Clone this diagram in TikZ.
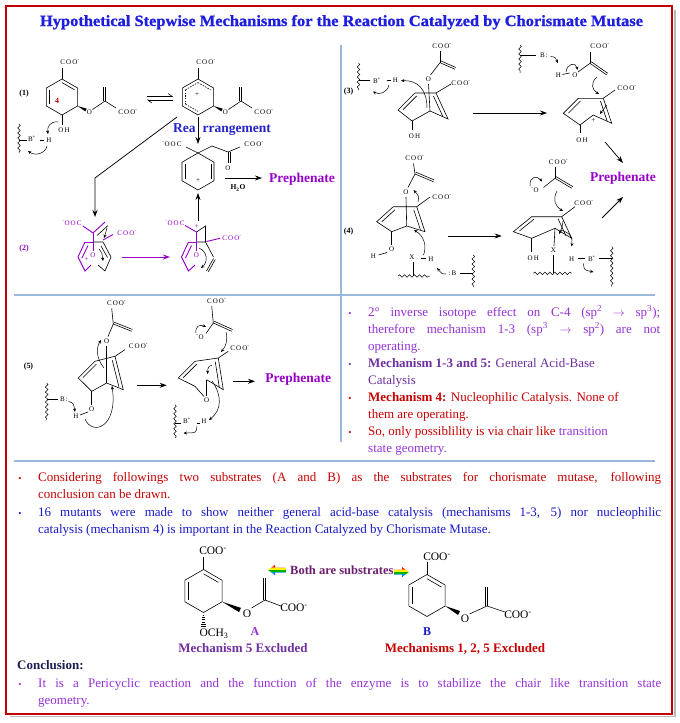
\documentclass[tikz,border=0pt]{standalone}
\usepackage{graphicx}
\usepackage{fontspec}
\setmainfont{Liberation Serif}
\newfontfamily\chemfont[LetterSpace=15]{Liberation Serif}
\newfontfamily\titlefont[FakeBold=1]{Liberation Serif}
\usetikzlibrary{calc,arrows.meta,decorations.pathmorphing}

\definecolor{titleblue}{RGB}{30,30,225}
\definecolor{rearrblue}{RGB}{35,35,200}
\definecolor{framered}{RGB}{192,0,0}
\definecolor{sepblue}{RGB}{155,183,217}
\definecolor{prepurple}{RGB}{150,0,200}
\definecolor{lightviolet}{RGB}{150,50,215}
\definecolor{mechpurple}{RGB}{112,48,160}
\definecolor{textred}{RGB}{200,0,0}
\definecolor{textblue}{RGB}{25,25,200}
\definecolor{navy}{RGB}{30,30,85}
\definecolor{bothpurple}{RGB}{110,30,110}

\begin{document}
\begin{tikzpicture}[x=1pt,y=-1pt,
  bond/.style={line width=0.6pt},
  pbond/.style={line width=0.9pt,prepurple},
  rxn/.style={line width=0.75pt,-{Stealth[length=7pt,width=5pt]}},
  curly/.style={line width=0.5pt,-{Stealth[length=3.5pt,width=3pt]}},
  chem/.style={font=\chemfont\fontsize{7}{8}\selectfont,inner sep=0.3pt},
  chemA/.style={font=\fontsize{11.5}{12}\selectfont,inner sep=0.3pt},
  mlabel/.style={font=\bfseries\fontsize{8}{9}\selectfont,inner sep=0pt},
  prep/.style={font=\bfseries\fontsize{13.5}{14}\selectfont,prepurple,inner sep=0pt},
  wavy/.style={line width=0.5pt,decorate,decoration={snake,amplitude=1.3pt,segment length=5pt}},
  txt/.style={font=\fontsize{13}{15}\selectfont,inner sep=0pt,anchor=base west},
  bul/.style={font=\fontsize{9}{10}\selectfont,inner sep=0pt,anchor=base},
  capt/.style={font=\bfseries\fontsize{13}{14}\selectfont,inner sep=0pt,anchor=base},
  sep/.style={sepblue,line width=1.1pt}]

\def\hexring#1#2#3#4{%
  \coordinate (#1-c) at (#2,#3);
  \coordinate (#1-t) at (#2,{#3-#4});
  \coordinate (#1-ur) at ({#2+0.866*#4},{#3-0.5*#4});
  \coordinate (#1-lr) at ({#2+0.866*#4},{#3+0.5*#4});
  \coordinate (#1-b) at (#2,{#3+#4});
  \coordinate (#1-ll) at ({#2-0.866*#4},{#3+0.5*#4});
  \coordinate (#1-ul) at ({#2-0.866*#4},{#3-0.5*#4});
  \draw[bond] (#1-t) -- (#1-ur) -- (#1-lr) -- (#1-b) -- (#1-ll) -- (#1-ul) -- cycle;}
\def\dblin#1#2#3#4{\draw[bond,#4] ($(#1)!0.8!(#2)$) -- ($(#1)!0.8!(#3)$);}
\def\dbl#1#2{\draw[bond] (#1) -- (#2);
  \draw[bond] ($(#1)!2pt!90:(#2)$) -- ($(#2)!2pt!-90:(#1)$);}

\fill[white] (0,0) rectangle (680,723);
\useasboundingbox (0,0) rectangle (680,723);

% frame and separators
\draw[gray!55,line width=1.5pt] (675,10) -- (675,716.5) -- (10,716.5);
\draw[framered,line width=2.5pt] (6,6) rectangle (672,714);
\draw[sep] (14,295) -- (655,295);
\draw[sep] (14,461) -- (655,461);
\draw[sep] (341,45) -- (341,442);

\node[anchor=base,inner sep=0pt,titleblue] (title) at (341.5,26)
  {\resizebox{603pt}{11pt}{\titlefont\bfseries Hypothetical Stepwise Mechanisms for the Reaction Catalyzed by Chorismate Mutase}};

% (1)
\node[mlabel] (lab1) at (24,94) {(1)};
\hexring{ra}{62}{97}{18}
\dblin{ra-c}{ra-t}{ra-ur}{}
\dblin{ra-c}{ra-ul}{ra-ll}{}
\draw[bond] (ra-t) -- (62,68);
\node[chem] (ra-coo) at (70,62) {COO\textsuperscript{-}};
\node[textred,font=\bfseries\fontsize{8}{8}\selectfont,inner sep=0pt] (ra-four) at (57,101) {4};
\fill (ra-lr) -- (86.7,108.6) -- (85.3,111.4) -- cycle;
\node[chem] (ra-o) at (89.5,112) {O};
\draw[bond] (92.5,109.5) -- (105,101);
\dbl{105,101}{105,87}
\draw[bond] (105,101) -- (116,108);
\node[chem] (ra-coo2) at (128,112) {COO\textsuperscript{-}};
\draw[bond] (ra-b) -- (62,125);
\node[chem] (ra-oh) at (64,130) {OH};
\draw[wavy] (19,124) -- (19,153);
\draw[bond] (19,140) -- (27,140);
\node[chem] (ra-bp) at (32,139) {B\textsuperscript{+}};
\draw[bond] (40,140) -- (44,140);
\node[chem] (ra-h) at (49,140) {H};
\draw[curly] (58,122) .. controls (50,121) and (47,127) .. (48,134);
\draw[curly] (47,146) .. controls (45,154) and (35,156) .. (28,151);

\draw[line width=0.6pt,-{Straight Barb[left,length=4pt,width=6pt]}] (147,96.5) -- (173,96.5);
\draw[line width=0.6pt,-{Straight Barb[left,length=4pt,width=6pt]}] (173,100) -- (147,100);

\hexring{rb}{198}{97}{18}
\dblin{rb-c}{rb-t}{rb-ur}{dashed,dash pattern=on 1.5pt off 1.2pt}
\dblin{rb-c}{rb-ul}{rb-t}{dashed,dash pattern=on 1.5pt off 1.2pt}
\dblin{rb-c}{rb-ul}{rb-ll}{dashed,dash pattern=on 1.5pt off 1.2pt}
\dblin{rb-c}{rb-ll}{rb-b}{dashed,dash pattern=on 1.5pt off 1.2pt}
\node[chem] (rb-plus) at (197,95) {+};
\draw[bond] (rb-t) -- (198,68);
\node[chem] (rb-coo) at (206,62) {COO\textsuperscript{-}};
\fill (rb-lr) -- (222.7,108.6) -- (221.3,111.4) -- cycle;
\node[chem] (rb-o) at (225.5,112) {O};
\draw[bond] (228.5,109.5) -- (241,101);
\dbl{241,101}{241,87}
\draw[bond] (241,101) -- (252,108);
\node[chem] (rb-coo2) at (264,112) {COO\textsuperscript{-}};

\draw[rxn] (177,117) -- (95,178) -- (95,217);
\draw[rxn] (198,117) -- (198,144);
\node[anchor=west,inner sep=0pt,font=\bfseries\fontsize{13.5}{14}\selectfont,rearrblue] (rearr) at (173,130) {Rea\hspace{7pt}rrangement};

\hexring{rc}{198}{171.5}{18.5}
\dblin{rc-c}{rc-ul}{rc-ll}{}
\dblin{rc-c}{rc-ur}{rc-lr}{}
\node[chem] (rc-plus) at (198,181) {+};
\draw[bond] (rc-t) -- (186,147);
\node[chem] (rc-ooc) at (172,144) {\textsuperscript{-}OOC};
\draw[bond] (rc-t) -- (212,146) -- (228,152) -- (240,147);
\dbl{228,152}{228,163}
\node[chem] (rc-o) at (228,168) {O};
\node[chem] (rc-coo) at (254,144) {COO\textsuperscript{-}};
\draw[rxn] (225,178) -- (262,178);
\node[chem,font=\bfseries\fontsize{7.5}{8}\selectfont] (water) at (238,188) {H\textsubscript{2}O};
\node[prep] (prep1) at (302,179) {Prephenate};
\draw[rxn] (198,221) -- (198,193);

% (2)
\node[mlabel,prepurple] (lab2) at (24,249) {(2)};
\node[chem,prepurple] (pa-ooc) at (72,223) {\textsuperscript{-}OOC};
\draw[pbond] (83,226) -- (93,233);
\draw[pbond] (93,233) -- (105,222);
\draw[bond] (97,235.5) -- (108,225.5);
\draw[curly] (107,228) .. controls (106,232) .. (104,238);
\draw[pbond] (93,233) -- (93,251);
\node[chem,prepurple] (pa-o) at (93,255) {O};
\draw[pbond] (103,240) -- (113,234.5);
\node[chem,prepurple] (pa-coo) at (127,233) {COO\textsuperscript{-}};
\draw[pbond] (85,242) -- (78,257) -- (85,271) -- (91,265);
\draw[pbond] (88,245.5) -- (82,258);
\node[chem,prepurple] (pa-plus) at (86.5,259.5) {+};
\draw[pbond] (85,242) -- (93,242);
\draw[bond] (93,242) -- (103,242) -- (111,257) -- (105,271) -- (98,265);
\draw[bond] (101,246) -- (107.5,257.5);
\draw[curly] (99,249) .. controls (102,253) .. (103,261);
\draw[rxn,prepurple,line width=1pt] (122,257) -- (170,257);

\node[chem,prepurple] (pb-ooc) at (175,223) {\textsuperscript{-}OOC};
\draw[pbond] (185,225.5) -- (196.5,232);
\node[chem,prepurple] (pb-plus) at (196.5,226.5) {+};
\draw[bond] (196.5,232) -- (205.5,226) -- (205.5,242);
\draw[pbond] (206.5,241.5) -- (220,238.3);
\node[chem,prepurple] (pb-coo) at (232,238) {COO\textsuperscript{-}};
\draw[pbond] (196.5,232) -- (196.5,251);
\node[chem,prepurple] (pb-o) at (196.5,255) {O};
\draw[pbond] (188.5,242) -- (181.5,257) -- (188.5,271) -- (195,265);
\draw[pbond] (191.5,245.5) -- (185.5,258);
\draw[pbond] (188.5,242) -- (196.5,242);
\draw[bond] (196.5,242) -- (205.5,242) -- (213.5,257);
\dbl{213.5,258.5}{206.5,271}
\draw[curly] (199,248) .. controls (208,252) and (208,262) .. (201,268);

% (3)
\node[mlabel] (lab3) at (348.5,92) {(3)};
\draw[wavy] (358.5,63) -- (358.5,90);
\draw[bond] (358.5,80.7) -- (370,80.7);
\node[chem] (ta-bp) at (377,80.5) {B\textsuperscript{+}};
\draw[bond] (386.5,80.7) -- (391,80.7);
\node[chem] (ta-h) at (395.5,80.7) {H};
\draw[curly] (427,108) .. controls (427,90) and (418,80) .. (401,80.7);
\draw[curly] (389,85) .. controls (387,93) and (379,95) .. (373,91.5);
\node[chem] (ta-coo) at (442,46) {COO\textsuperscript{-}};
\draw[bond] (440,51) -- (440,62.7);
\dbl{440,62.7}{455,69.3}
\draw[bond] (440,62.7) -- (430.5,75);
\node[chem] (ta-o) at (428.5,79.5) {O};
\coordinate (ta5) at (398,110); \coordinate (ta6) at (415,93);
\coordinate (ta1) at (436,93); \coordinate (ta2) at (448,119);
\coordinate (ta3) at (430,111); \coordinate (ta4) at (412,121);
\coordinate (ta-c) at (423,108);
\draw[bond] (ta5) -- (ta6) -- (ta1) -- (ta2) -- (ta3) -- (ta4) -- cycle;
\draw[bond] (428.5,84) -- (ta3);
\dblin{ta-c}{ta5}{ta6}{}
\dblin{ta-c}{ta1}{ta2}{}
\draw[bond] (ta1) -- (451,84);
\node[chem] (ta-coo2) at (461,83) {COO\textsuperscript{-}};
\draw[bond] (ta4) -- (412,129.5);
\node[chem] (ta-oh) at (414.5,136) {OH};
\draw[rxn] (473,113) -- (547,113);

\draw[wavy] (520,45) -- (520,73);
\draw[bond] (520,55) -- (536,55);
\node[chem] (tb-b) at (544,55) {B\,:};
\draw[curly] (550.5,56.5) .. controls (555,57) .. (558,63);
\node[chem] (tb-h) at (558.5,75) {H};
\draw[bond] (562.5,74.5) -- (569.5,73);
\node[chem] (tb-o) at (575,75) {O};
\draw[curly] (566,72) .. controls (567,63) and (576,62) .. (577.5,70);
\draw[bond] (578,72) -- (590,63.3);
\draw[bond] (590,63.3) -- (590,52);
\node[chem] (tb-coo) at (600,46) {COO\textsuperscript{-}};
\dbl{590,63.3}{606.7,75}
\draw[curly] (597,77) .. controls (590,83) and (592,90) .. (599,94);
\coordinate (tb5) at (563.3,113.3); \coordinate (tb6) at (578.3,98.3);
\coordinate (tb1) at (603.3,98.3); \coordinate (tb2) at (611.7,123.3);
\coordinate (tb3) at (593.3,115); \coordinate (tb4) at (580,125);
\coordinate (tb-c) at (589,112);
\draw[bond] (tb5) -- (tb6) -- (tb1) -- (tb2) -- (tb3) -- (tb4) -- cycle;
\dblin{tb-c}{tb5}{tb6}{}
\dblin{tb-c}{tb1}{tb2}{}
\node[chem] (tb-plus) at (593.3,120.7) {+};
\draw[bond] (tb1) -- (615,90);
\node[chem] (tb-coo2) at (627,88.5) {COO\textsuperscript{-}};
\draw[curly] (607,105) .. controls (604,108) .. (600,114);
\draw[bond] (tb4) -- (580,133);
\node[chem] (tb-oh) at (582,140) {OH};
\draw[rxn] (605,142) -- (623,163);
\node[prep] (prep2) at (623,178) {Prephenate};

% (4)
\node[mlabel] (lab4) at (348.5,232) {(4)};
\node[chem] (fa-coo) at (415,158.5) {COO\textsuperscript{-}};
\draw[bond] (413.5,163.5) -- (415,174);
\dbl{415,174}{433.3,181.7}
\draw[bond] (415,174) -- (408,187.5);
\node[chem] (fa-o) at (406,192.3) {O};
\coordinate (fa5) at (376.7,221.7); \coordinate (fa6) at (393.3,206.7);
\coordinate (fa1) at (416.7,206.7); \coordinate (fa2) at (425,231.7);
\coordinate (fa3) at (406.7,226); \coordinate (fa4) at (391.7,231.7);
\coordinate (fa-c) at (402,222);
\draw[bond] (fa5) -- (fa6) -- (fa1) -- (fa2) -- (fa3) -- (fa4) -- cycle;
\draw[bond] (406,197) -- (fa3);
\dblin{fa-c}{fa5}{fa6}{}
\dblin{fa-c}{fa1}{fa2}{}
\draw[bond] (fa1) -- (430,197);
\node[chem] (fa-coo2) at (442,197) {COO\textsuperscript{-}};
\draw[curly] (418,202) .. controls (419,196) .. (413.5,190);
\draw[bond] (fa4) -- (391.7,245);
\node[chem] (fa-oh) at (391.7,249.5) {O};
\draw[bond] (387,252.5) -- (378.5,255);
\node[chem] (fa-h) at (373.3,256) {H};
\node[chem] (fa-x) at (412,257.5) {X};
\draw[bond] (421,258.5) -- (425.5,258.5);
\node[chem] (fa-xh) at (431,259) {H};
\draw[curly] (423.5,255) .. controls (427,246) and (424,236) .. (414,230);
\draw[bond] (413.3,262) -- (413.3,276);
\draw[wavy] (398,276) -- (430,276);
\node[chem] (fa-b) at (452.5,273.5) {:B};
\draw[bond] (460,273.5) -- (473.3,273.5);
\draw[wavy] (473.3,255) -- (473.3,287);
\draw[curly] (446,274) .. controls (442,274) .. (437,268);
\draw[rxn] (448.3,236) -- (501.7,236);

\node[chem] (fb-coo) at (558.5,162.7) {COO\textsuperscript{-}};
\draw[bond] (555,167) -- (555,178.3);
\dbl{555,178.3}{571.7,188.3}
\draw[bond] (555,178.3) -- (543.5,187.5);
\node[chem] (fb-o) at (535,190) {\textsuperscript{-}O};
\draw[curly] (530,186) .. controls (529,177) and (537,175) .. (542,181.5);
\draw[curly] (557,191) .. controls (552,200) and (556,207) .. (563,211);
\coordinate (fb5) at (513.3,231.7); \coordinate (fb6) at (531.7,216.7);
\coordinate (fb1) at (561.7,216.7); \coordinate (fb2) at (571.7,238.3);
\coordinate (fb3) at (555,228.3); \coordinate (fb4) at (531.7,238.3);
\coordinate (fb-c) at (544,228);
\draw[bond] (fb5) -- (fb6) -- (fb1) -- (fb2) -- (fb3) -- (fb4) -- cycle;
\dblin{fb-c}{fb5}{fb6}{}
\dblin{fb-c}{fb1}{fb2}{}
\draw[bond] (fb1) -- (575,206.7);
\node[chem] (fb-coo2) at (584,203.5) {COO\textsuperscript{-}};
\draw[curly] (563,221) .. controls (562,228) .. (559,234);
\draw[bond] (fb4) -- (531.7,251.5);
\node[chem] (fb-oh) at (533.3,258.3) {OH};
\draw[bond] (fb3) -- (554,246);
\node[chem] (fb-x) at (553.3,250) {X};
\draw[curly] (560,230) .. controls (570,232) and (573,238) .. (571.5,246.5);
\draw[bond] (553.3,255) -- (553.3,273.3);
\draw[wavy] (533.3,273.3) -- (571.7,273.3);
\node[chem] (fb-h) at (571.7,259.3) {H};
\draw[bond] (578.3,258.5) -- (585,258.5);
\node[chem] (fb-bp) at (592,258.3) {B\textsuperscript{+}};
\draw[bond] (598.5,258.5) -- (611.7,258.5);
\draw[wavy] (611.7,246.7) -- (611.7,286.7);
\draw[curly] (583.5,263.5) .. controls (584,270) .. (593.5,272);
\draw[rxn] (602,218) -- (623,197);

% (5)
\node[mlabel] (lab5) at (28.5,366.5) {(5)};
\node[chem] (va-coo) at (116.7,303) {COO\textsuperscript{-}};
\draw[bond] (111.7,308.5) -- (113.3,324);
\dbl{113.3,324}{131.7,331.3}
\draw[bond] (113.3,324) -- (108,336.5);
\node[chem] (va-o) at (106.7,341.3) {O};
\coordinate (va5) at (78.3,378); \coordinate (va6) at (95,361.3);
\coordinate (va1) at (115,356.3); \coordinate (va2) at (123.3,389.7);
\coordinate (va3) at (106.7,383); \coordinate (va4) at (91.7,391.3);
\coordinate (va-c) at (101.5,376);
\draw[bond] (va5) -- (va6) -- (va1) -- (va2) -- (va3) -- (va4) -- cycle;
\dblin{va-c}{va5}{va6}{}
\dblin{va-c}{va1}{va2}{}
\draw[bond] (106.7,346) -- (va3);
\draw[bond] (va1) -- (125,349.7);
\node[chem] (va-coo2) at (138.5,346.3) {COO\textsuperscript{-}};
\draw[curly] (104,368) .. controls (96,358) and (96,348) .. (101,340);
\draw[bond] (va4) -- (91.7,405);
\node[chem] (va-oh) at (91.7,409.7) {O};
\draw[bond] (88,412) -- (80,415);
\node[chem] (va-h) at (76,416.3) {H};
\draw[wavy] (46.7,383) -- (46.7,420);
\draw[bond] (46.7,399.7) -- (58.3,399.7);
\node[chem] (va-b) at (64,399.7) {B\,:};
\draw[curly] (68.5,401.5) .. controls (73.5,403) .. (75,412);
\draw[curly] (85,419) .. controls (92,436) and (118,428) .. (112,386);
\draw[rxn] (136.7,385.3) -- (166.7,385.3);

\node[chem] (vb-coo) at (216.7,301.3) {COO\textsuperscript{-}};
\draw[bond] (211.7,306.3) -- (213.3,323);
\dbl{213.3,323}{231.7,331.3}
\draw[bond] (213.3,323) -- (206,333.5);
\node[chem] (vb-o) at (200,337.3) {\textsuperscript{-}O};
\draw[curly] (196,333) .. controls (195,326) and (200,324) .. (206,327);
\draw[curly] (226,332) .. controls (228,340) and (226,346) .. (221,352);
\coordinate (vb5) at (178.3,378); \coordinate (vb6) at (195,361.3);
\coordinate (vb1) at (218.3,358); \coordinate (vb2) at (223.3,389.7);
\coordinate (vb3) at (206.7,379.7); \coordinate (vb4) at (195,386.3);
\coordinate (vb-c) at (203,376);
\draw[bond] (vb4) -- (vb5) -- (vb6) -- (vb1) -- (vb2) -- (vb3);
\dblin{vb-c}{vb5}{vb6}{}
\dblin{vb-c}{vb1}{vb2}{}
\draw[bond] (vb4) -- (204,396.5);
\draw[line width=1.1pt] (vb3) -- (206.7,395.5);
\node[chem] (vb-ox) at (206.7,400) {O};
\draw[curly] (212,365) .. controls (208,367) .. (207.5,374);
\draw[bond] (vb1) -- (228.3,351.3);
\node[chem] (vb-coo2) at (240,348) {COO\textsuperscript{-}};
\draw[curly] (212,381) .. controls (222,395) and (222,410) .. (209,420);
\draw[wavy] (175,404.7) -- (175,438);
\draw[bond] (175,423) -- (181,423);
\node[chem] (vb-bp) at (187,421) {B\textsuperscript{+}};
\draw[bond] (196.7,423) -- (200,423);
\node[chem] (vb-h) at (204,421.3) {H};
\draw[curly] (197,426.5) .. controls (196,433) .. (183.5,433);
\draw[rxn] (233.3,381.3) -- (255,381.3);
\node[prep] (prep3) at (298.3,379.7) {Prephenate};

% right panel text
\node[bul,lightviolet] (rb1) at (350,316) {\textbullet};
\node[txt,lightviolet] (rt1) at (368,316) {\makebox[292pt][s]{2° inverse isotope effect on C-4 (sp\textsuperscript{2} $\rightarrow$ sp\textsuperscript{3});}};
\node[txt,lightviolet] (rt2) at (368,333) {\makebox[292pt][s]{therefore mechanism 1-3 (sp\textsuperscript{3} $\rightarrow$ sp\textsuperscript{2}) are not}};
\node[txt,lightviolet] (rt3) at (368,350) {operating.};
\node[bul,mechpurple] (rb2) at (350,367) {\textbullet};
\node[txt,mechpurple] (rt4) at (368,367) {\textbf{Mechanism 1-3 and 5:} General Acid-Base};
\node[txt,mechpurple] (rt5) at (368,384) {Catalysis};
\node[bul,textred] (rb3) at (350,401) {\textbullet};
\node[txt,textred] (rt6) at (368,401) {\textbf{Mechanism 4:} Nucleophilic Catalysis. None of};
\node[txt,textred] (rt7) at (368,418) {them are operating.};
\node[bul,textred] (rb4) at (350,435) {\textbullet};
\node[txt,textred] (rt8) at (368,435) {So, only possiblility is via chair like \textcolor{lightviolet}{transition}};
\node[txt,lightviolet] (rt9) at (368,452) {state geometry.};

% lower text
\node[bul,textred] (lb1) at (20,481) {\textbullet};
\node[txt,textred] (lt1) at (38,481) {\makebox[623pt][s]{Considering followings two substrates (A and B) as the substrates for chorismate mutase, following}};
\node[txt,textred] (lt2) at (38,498) {conclusion can be drawn.};
\node[bul,textblue] (lb2) at (20,516) {\textbullet};
\node[txt,textblue] (lt3) at (38,516) {\makebox[623pt][s]{16 mutants were made to show neither general acid-base catalysis (mechanisms 1-3, 5) nor nucleophilic}};
\node[txt,textblue] (lt4) at (38,533) {catalysis (mechanism 4) is important in the Reaction Catalyzed by Chorismate Mutase.};

% substrate A
\hexring{sa}{203.5}{591}{21.5}
\dblin{sa-c}{sa-t}{sa-ur}{}
\dblin{sa-c}{sa-ul}{sa-ll}{}
\draw[bond] (sa-t) -- (203.5,557);
\node[chemA] (sa-coo) at (213,551) {COO\textsuperscript{-}};
\fill (sa-lr) -- (241,607.9) -- (239,612.1) -- cycle;
\node[chemA] (sa-o) at (247,614) {O};
\draw[bond] (251.5,608) -- (265,600);
\dbl{265,600}{265,578}
\draw[bond] (265,600) -- (281,606);
\node[chemA] (sa-coo2) at (294,608) {COO\textsuperscript{-}};
\foreach \k in {0,...,5}
  \draw[line width=0.6pt] ({202.6-0.35*\k},{615+2.3*\k}) -- ({204.4+0.35*\k},{615+2.3*\k});
\node[chemA] (sa-och) at (214,634) {OCH\textsubscript{3}};
\node[font=\bfseries\fontsize{12}{12}\selectfont,lightviolet,inner sep=0pt,anchor=base] (sa-lab) at (255,635) {A};
\node[capt,mechpurple] (capA) at (243,652) {Mechanism 5 Excluded};

% substrate B
\hexring{sb}{427}{595.5}{21}
\dblin{sb-c}{sb-t}{sb-ur}{}
\dblin{sb-c}{sb-ul}{sb-ll}{}
\draw[bond] (sb-t) -- (427,562);
\node[chemA] (sb-coo) at (437,557) {COO\textsuperscript{-}};
\fill (sb-lr) -- (460,611) -- (458,615) -- cycle;
\node[chemA] (sb-o) at (465,619) {O};
\draw[bond] (469.5,614) -- (487,606);
\dbl{487,606}{487,587}
\draw[bond] (487,606) -- (505,612);
\node[chemA] (sb-coo2) at (518,615) {COO\textsuperscript{-}};
\node[font=\bfseries\fontsize{12}{12}\selectfont,textblue,inner sep=0pt,anchor=base] (sb-lab) at (427,635) {B};
\node[capt,textred] (capB) at (465,652) {Mechanisms 1, 2, 5 Excluded};

\node[font=\bfseries\fontsize{12.5}{13}\selectfont,bothpurple,anchor=west,inner sep=0pt] (both) at (290,570) {Both are substrates};
\begin{scope}
  \clip (268,570) -- (275,565) -- (275,567.5) -- (286,567.5) -- (286,572.5) -- (275,572.5) -- (275,575) -- cycle;
  \foreach \c [count=\i from 0] in {red,orange,yellow,green!70!black,cyan!80!blue,blue}
    \fill[\c] (267,{565+\i*1.7}) rectangle (287,{566.8+\i*1.7});
\end{scope}
\begin{scope}
  \clip (409,572) -- (402,567) -- (402,569.5) -- (394,569.5) -- (394,574.5) -- (402,574.5) -- (402,577) -- cycle;
  \foreach \c [count=\i from 0] in {red,orange,yellow,green!70!black,cyan!80!blue,blue}
    \fill[\c] (393,{567+\i*1.7}) rectangle (410,{568.8+\i*1.7});
\end{scope}

% conclusion
\node[font=\bfseries\fontsize{13}{14}\selectfont,navy,anchor=base west,inner sep=0pt] (concl) at (17,669) {Conclusion:};
\node[bul,lightviolet] (cb1) at (20,687) {\textbullet};
\node[txt,lightviolet] (ct1) at (38,687) {\makebox[623pt][s]{It is a Pericyclic reaction and the function of the enzyme is to stabilize the chair like transition state}};
\node[txt,lightviolet] (ct2) at (38,704) {geometry.};

\end{tikzpicture}
\end{document}
